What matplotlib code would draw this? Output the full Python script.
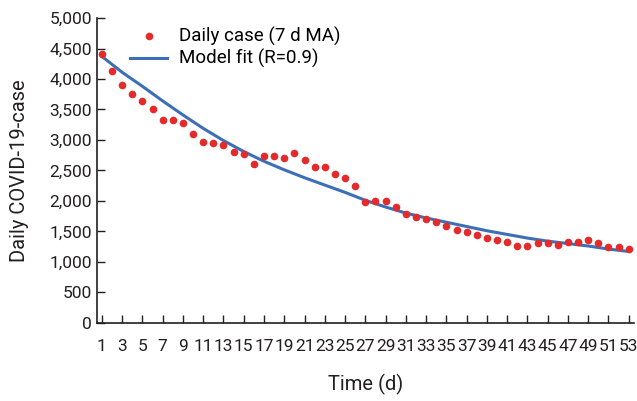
import numpy as np
import matplotlib.pyplot as plt
from matplotlib import font_manager

names = {f.name for f in font_manager.fontManager.ttflist}
family = 'Liberation Sans Narrow' if 'Liberation Sans Narrow' in names else 'Roboto'
plt.rcParams['font.family'] = [family, 'DejaVu Sans']

# daily cases, 7-day moving average, days 1..53
days = np.arange(1, 54)
cases = [4405, 4135, 3905, 3750, 3645, 3505, 3330, 3330, 3280, 3095,
         2965, 2955, 2920, 2805, 2762, 2605, 2735, 2735, 2697, 2782,
         2667, 2560, 2560, 2435, 2372, 2240, 1990, 2005, 1995, 1900,
         1785, 1738, 1705, 1661, 1595, 1519, 1486, 1437, 1388, 1361,
         1328, 1262, 1262, 1306, 1306, 1284, 1328, 1328, 1361, 1317,
         1246, 1246, 1213]

# model fit
fit_days = [1, 3, 5, 7, 9, 11, 13, 15, 17, 19, 21, 23, 25, 27,
            29, 31, 33, 35, 37, 39, 41, 43, 45, 47, 49, 51, 53]
fit_vals = [4370, 4110, 3880, 3640, 3410, 3190, 2990, 2810, 2650, 2510,
            2380, 2260, 2140, 2010, 1900, 1800, 1720, 1650, 1580, 1510,
            1450, 1390, 1340, 1300, 1260, 1210, 1170]

fig = plt.figure(figsize=(6.37, 4.01), dpi=100)
ax = fig.add_axes([0.152, 0.195, 0.843, 0.76])

ax.plot(fit_days, fit_vals, color='#3d6fb8', lw=2.2, label='Model fit (R=0.9)', zorder=2)
ax.plot(days, cases, 'o', color='#e42a2a', ms=5.5, mec='none', label='Daily case (7 d MA)', zorder=3)

ax.set_xlim(0.5, 53.5)
ax.set_ylim(0, 5000)
ax.set_xticks(range(1, 54, 2))
ax.set_yticks(range(0, 5001, 500))
ax.set_yticklabels([f'{v:,}' for v in range(0, 5001, 500)])
ax.tick_params(direction='in', labelsize=12.5, length=6, width=1, colors='#231f20')
ax.tick_params(axis='x', pad=12)
for s in ['top', 'right']:
    ax.spines[s].set_visible(False)
for s in ['left', 'bottom']:
    ax.spines[s].set_linewidth(1.2)
    ax.spines[s].set_color('#231f20')

ax.set_ylabel('Daily COVID-19-case', fontsize=14.5, color='#231f20', labelpad=15)
ax.set_xlabel('Time (d)', fontsize=14.5, color='#231f20', labelpad=14)

h, l = ax.get_legend_handles_labels()
ax.legend(h[::-1], l[::-1], loc='upper left', bbox_to_anchor=(0.03, 1.025), frameon=False,
          fontsize=13.5, handlelength=2.0, handletextpad=0.6, labelspacing=0.15)

fig.savefig('out.png', dpi=100)
